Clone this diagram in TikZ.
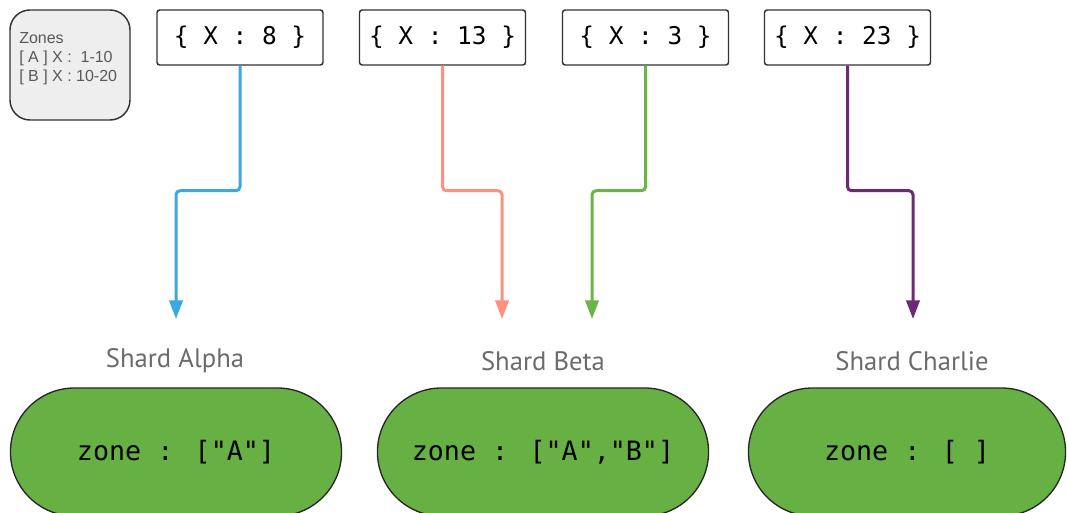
\documentclass[tikz,border=0pt]{standalone}
\usepackage{fontspec}
\setmainfont{Liberation Sans}
\newfontfamily\codefont{DejaVu Sans Mono}
\newfontfamily\titlefont{PT Sans}
\usetikzlibrary{arrows.meta, positioning, shapes.misc}

\definecolor{alphablue}{HTML}{3DA8DF}
\definecolor{betapink}{HTML}{FF8F7E}
\definecolor{gammagreen}{HTML}{6BB445}
\definecolor{deltapurple}{HTML}{6B2A73}
\definecolor{shardfill}{HTML}{67B043}
\definecolor{notefill}{HTML}{EEEEEE}

\begin{document}
\begin{tikzpicture}[
  x=0.75pt, y=-0.75pt,
  doc/.style={rectangle, draw=black!80, line width=1.1pt, rounded corners=2pt,
    fill=white, minimum width=124.5pt, minimum height=41.25pt,
    font=\codefont\fontsize{18.3}{20}\selectfont},
  shard/.style={rounded rectangle, draw=black!85, line width=1pt, fill=shardfill,
    minimum height=96pt, font=\codefont\fontsize{20}{24}\selectfont},
  title/.style={font=\titlefont\fontsize{20}{24}\selectfont, text=black!58},
  flow/.style={-{Triangle[width=10pt, length=14pt]}, line width=2.25pt, rounded corners=3pt}
]
  \useasboundingbox (0,0) rectangle (1067,513);

  % legend of the zones
  \node[rectangle, draw=black!80, line width=1.1pt, rounded corners=15pt, fill=notefill,
    minimum width=90pt, minimum height=82.5pt] (zones) at (70,65) {};
  \node[anchor=north west, inner sep=0pt, align=left, text=black!65,
    font=\fontsize{12}{14.25}\selectfont] (zonetxt) at (19,32)
    {Zones\\{}[ A ] X :\ \ 1-10\\{}[ B ] X : 10-20};

  % documents
  \node[doc] (d8)  at (240,37.5)   {\{ X : 8 \}};
  \node[doc] (d13) at (442.5,37.5) {\{ X : 13 \}};
  \node[doc] (d3)  at (645.5,37.5) {\{ X : 3 \}};
  \node[doc] (d23) at (847.5,37.5) {\{ X : 23 \}};

  % shards
  \node[title] (talpha)   at (175,361) {Shard Alpha};
  \node[title] (tbeta)    at (543,361) {Shard Beta};
  \node[title] (tcharlie) at (912,361) {Shard Charlie};
  \node[shard, minimum width=255pt]   (alpha)   at (176,452) {zone : ["A"]};
  \node[shard, minimum width=255pt]   (beta)    at (543,452) {zone : ["A","B"]};
  \node[shard, minimum width=244.5pt] (charlie) at (907,452) {zone : [ ]};

  \coordinate (alphain)  at (176,319);
  \coordinate (betain)   at (502,319);
  \coordinate (betain2)  at (592,319);
  \coordinate (charliein) at (913,319);

  \draw[flow, alphablue]   (d8.south)  -- ++(0,125) -| (alphain);
  \draw[flow, betapink]    (d13.south) -- ++(0,125) -| (betain);
  \draw[flow, gammagreen]  (d3.south)  -- ++(0,125) -| (betain2);
  \draw[flow, deltapurple] (d23.south) -- ++(0,125) -| (charliein);
\end{tikzpicture}
\end{document}
